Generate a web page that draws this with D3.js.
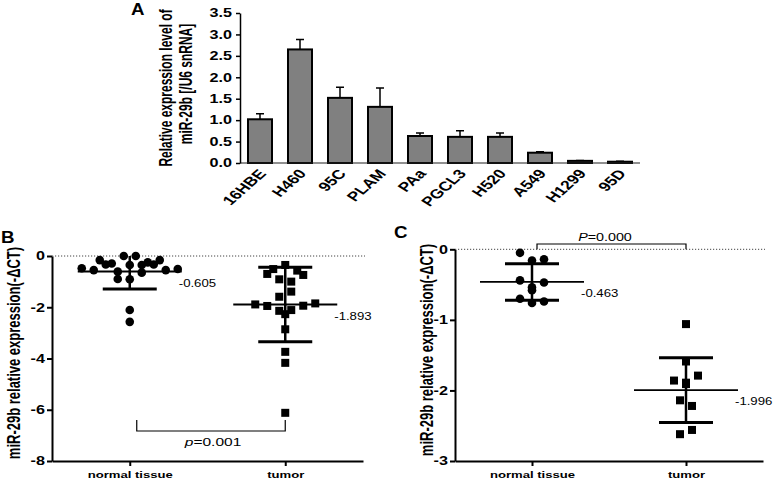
<!DOCTYPE html>
<html lang="en">
<head>
<meta charset="utf-8">
<title>miR-29b expression</title>
<script src="https://d3js.org/d3.v7.min.js"></script>
<style>
  body { margin: 0; background: #fff; }
  svg text { font-family: "Liberation Sans", Arial, sans-serif; fill: #000; }
</style>
</head>
<body>
<script>

// ---- panel A: cell lines
var cellLines = ["16HBE", "H460", "95C", "PLAM", "PAa", "PGCL3", "H520", "A549", "H1299", "95D"];
var cellMeans = [1.02, 2.65, 1.52, 1.31, 0.63, 0.61, 0.61, 0.24, 0.05, 0.03];
var cellErrors = [0.13, 0.23, 0.25, 0.44, 0.07, 0.14, 0.09, 0.02, 0.01, 0.01];
var yTicksA = [0, 0.5, 1, 1.5, 2, 2.5, 3, 3.5];

// ---- panel B: tissue samples (-dCT)
var groups = ["normal tissue", "tumor"];
var normalB = [-0.16, -0.48, -0.29, -0.55, -0.33, -0.61, 0, -0.35, -0.90, -2.57,
               0, -0.35, -0.91, -2.11, -0.33, -0.65, -0.25, -0.55, -0.16, -0.51];
var tumorB = [-1.89, -0.51, -1.95, -0.70, -2.14, -3.74, -0.91, -1.59, -0.35, -2.86,
              -6.12, -2.27, -1.00, -1.39, -4.17, -2.11, -0.74, -1.94, -0.57, -1.85];
var meanB = [-0.605, -1.893];
var sdB = [0.68, 1.45];
var yTicksB = [0, -2, -4, -6, -8];
var pB = "0.001";

// ---- panel C
var normalC = [-0.44, -0.05, -0.70, -0.54, -0.16, -0.76, -0.58, -0.14, -0.74, -0.47];
var tumorC = [-1.86, -2.62, -1.91, -2.14, -1.06, -1.59, -1.89, -2.22, -2.56, -1.79];
var meanC = [-0.463, -1.996];
var sdC = [0.26, 0.46];
var yTicksC = [0, -1, -2, -3];
var pC = "0.000";

var yTitle = "miR-29b relative expression(-\u0394CT)";

// the source figure is stretched sideways, so text gets a horizontal scale
var sx = 1.35;

var svg = d3.select("body").append("svg")
            .attr("width", 778)
            .attr("height", 481);

function sText(g, str, x, y, size, o) {
  o = o || {};
  return g.append("text")
    .attr("transform", "translate(" + x + "," + y + ") scale(" + (o.sx || sx) + ",1)" + (o.rot ? " rotate(" + o.rot + ")" : ""))
    .attr("font-size", size)
    .attr("font-weight", o.bold ? "bold" : null)
    .attr("font-style", o.italic ? "italic" : null)
    .attr("text-anchor", o.anchor || "start")
    .text(str);
}

function styleAxis(ax, w) {
  ax.selectAll("path, line").attr("stroke", "#000").attr("stroke-width", w);
}

// ================= panel A =================
var gA = svg.append("g");

var xA = d3.scaleBand()
           .domain(cellLines)
           .range([240, 640])
           .paddingInner(0.4)
           .paddingOuter(0.2);

var yA = d3.scaleLinear()
           .domain([0, 3.5])
           .range([163, 13]);

// error bars first (upper only)
gA.selectAll("path.err")
  .data(cellLines)
  .join("path")
  .attr("class", "err")
  .attr("d", function(d, i) {
    var cx = xA(d) + xA.bandwidth() / 2;
    var top = yA(cellMeans[i] + cellErrors[i]);
    return "M" + cx + "," + yA(cellMeans[i]) + "V" + top + "M" + (cx - 4) + "," + top + "H" + (cx + 4);
  })
  .attr("fill", "none")
  .attr("stroke", "#000")
  .attr("stroke-width", 1.5);

gA.selectAll("rect.bar")
  .data(cellLines)
  .join("rect")
  .attr("class", "bar")
  .attr("x", d => xA(d))
  .attr("y", (d, i) => yA(cellMeans[i]))
  .attr("width", xA.bandwidth())
  .attr("height", (d, i) => yA(0) - yA(cellMeans[i]))
  .attr("fill", "#808080")
  .attr("stroke", "#000")
  .attr("stroke-width", 2);

// x baseline
gA.append("line")
  .attr("x1", xA.range()[0]).attr("x2", xA.range()[1])
  .attr("y1", yA(0)).attr("y2", yA(0))
  .attr("stroke", "#222").attr("stroke-width", 1.2);

var axA = gA.append("g")
  .attr("transform", "translate(240,0)")
  .call(d3.axisLeft(yA).tickValues(yTicksA).tickFormat(d => d.toFixed(1)).tickSize(4).tickSizeOuter(0));
styleAxis(axA, 1.5);
axA.selectAll("text")
   .attr("font-size", 12)
   .attr("font-weight", "bold")
   .attr("x", -8 / sx)
   .attr("transform", "scale(" + sx + ",1)");

cellLines.forEach(function(d) {
  sText(gA, d, xA(d) + xA.bandwidth() / 2 + 7, 174, 13, {bold: true, anchor: "end", rot: -50});
});

sText(gA, "Relative expression level of", 172, 88, 12, {bold: true, anchor: "middle", rot: -90, sx: 1.5});
sText(gA, "miR-29b [/U6 snRNA]", 192, 84, 12, {bold: true, anchor: "middle", rot: -90, sx: 1.5});
sText(gA, "A", 131, 15, 17, {bold: true, sx: 1.1});

// ================= panels B and C =================
// spread points of one group sideways, row by row, like a column scatter
function spread(vals, y, step, thr) {
  var idx = d3.range(vals.length).sort((a, b) => vals[b] - vals[a]);
  var off = new Array(vals.length);
  var i = 0;
  while (i < idx.length) {
    var row = [idx[i]];
    var y0 = y(vals[idx[i]]);
    var j = i + 1;
    while (j < idx.length && y(vals[idx[j]]) - y0 < thr) { row.push(idx[j]); j++; }
    row.sort((a, b) => a - b);
    row.forEach(function(k, n) { off[k] = (n - (row.length - 1) / 2) * step; });
    i = j;
  }
  return off;
}

function scatterPanel(c) {
  var g = svg.append("g");

  var x = d3.scalePoint().domain(groups).range(c.xr).padding(0.5);
  var y = d3.scaleLinear().domain(c.yd).range(c.yr);

  // dotted zero line
  g.append("line")
   .attr("x1", c.xr[0]).attr("x2", c.xr[1] + 2)
   .attr("y1", y(0)).attr("y2", y(0))
   .attr("stroke", "#444").attr("stroke-width", 1)
   .attr("stroke-dasharray", "1.2,1.8");

  // points
  var offN = spread(c.normal, y, 12, 8);
  g.selectAll("circle.pt")
   .data(c.normal)
   .join("circle")
   .attr("class", "pt")
   .attr("cx", (d, i) => x(groups[0]) + offN[i])
   .attr("cy", d => y(d))
   .attr("r", 4.3)
   .attr("fill", "#000");

  var offT = spread(c.tumor, y, 12, 8);
  g.selectAll("rect.pt")
   .data(c.tumor)
   .join("rect")
   .attr("class", "pt")
   .attr("x", (d, i) => x(groups[1]) + offT[i] - 4)
   .attr("y", d => y(d) - 4)
   .attr("width", 8)
   .attr("height", 8)
   .attr("fill", "#000");

  // mean and SD
  groups.forEach(function(grp, i) {
    var cx = x(grp);
    var m = c.mean[i], s = c.sd[i];
    var lo = Math.max(m - s, c.yd[0]), hi = Math.min(m + s, c.yd[1]);
    g.append("line")
     .attr("x1", cx).attr("x2", cx)
     .attr("y1", y(lo)).attr("y2", y(hi))
     .attr("stroke", "#000").attr("stroke-width", 2.5);
    [m - s, m + s].forEach(function(v) {
      if (v < c.yd[0] || v > c.yd[1]) return;
      g.append("line")
       .attr("x1", cx - 27).attr("x2", cx + 27)
       .attr("y1", y(v)).attr("y2", y(v))
       .attr("stroke", "#000").attr("stroke-width", 3);
    });
    g.append("line")
     .attr("x1", cx - 52).attr("x2", cx + 52)
     .attr("y1", y(m)).attr("y2", y(m))
     .attr("stroke", "#000").attr("stroke-width", 1.8);
    sText(g, m.toFixed(3), cx + 49, y(m) + 15, 11, {sx: 1.2});
  });

  // axes
  var ay = g.append("g")
    .attr("transform", "translate(" + c.xr[0] + ",0)")
    .call(d3.axisLeft(y).tickValues(c.ticks).tickFormat(d => String(d)).tickSize(5).tickSizeOuter(0));
  styleAxis(ay, 2);
  ay.selectAll("text")
    .attr("font-size", 12)
    .attr("font-weight", "bold")
    .attr("x", -7 / sx)
    .attr("transform", "scale(" + sx + ",1)");

  var axb = g.append("g")
    .attr("transform", "translate(0," + c.yr[0] + ")")
    .call(d3.axisBottom(x).tickSize(5).tickSizeOuter(0));
  styleAxis(axb, 2);
  axb.selectAll("text")
     .attr("font-size", 9.7)
     .attr("font-weight", "bold")
     .attr("y", 17)
     .attr("dy", 0)
     .attr("transform", "scale(" + sx + ",1)");

  // significance bracket
  var bx1 = x(groups[0]) + c.bracket.dx, bx2 = x(groups[1]);
  g.append("path")
   .attr("d", "M" + bx1 + "," + c.bracket.tip + "V" + c.bracket.y + "H" + bx2 + "V" + c.bracket.tip)
   .attr("fill", "none")
   .attr("stroke", "#000")
   .attr("stroke-width", 1.2);
  var pt = sText(g, "", c.pPos[0], c.pPos[1], c.pSize, {anchor: "middle"});
  pt.append("tspan").attr("font-style", "italic").text(c.pLetter);
  pt.append("tspan").text("=" + c.p);

  sText(g, yTitle, c.titleX, c.titleY, 13, {bold: true, anchor: "middle", rot: -90});
  sText(g, c.letter, c.letterPos[0], c.letterPos[1], 17, {bold: true, sx: 1.1});
}

scatterPanel({
  normal: normalB, tumor: tumorB, mean: meanB, sd: sdB, ticks: yTicksB,
  xr: [52, 363], yd: [-8, 0], yr: [461, 256],
  bracket: {dx: 7, y: 431, tip: 420},
  pLetter: "p", p: pB, pPos: [213, 446], pSize: 11.5,
  titleX: 20, titleY: 353,
  letter: "B", letterPos: [1, 243]
});

scatterPanel({
  normal: normalC, tumor: tumorC, mean: meanC, sd: sdC, ticks: yTicksC,
  xr: [455, 763], yd: [-3, 0], yr: [461, 249.3],
  bracket: {dx: 5, y: 244, tip: 249.3},
  pLetter: "P", p: pC, pPos: [605, 241], pSize: 10.6,
  titleX: 433, titleY: 350,
  letter: "C", letterPos: [394, 238]
});

</script>
</body>
</html>
